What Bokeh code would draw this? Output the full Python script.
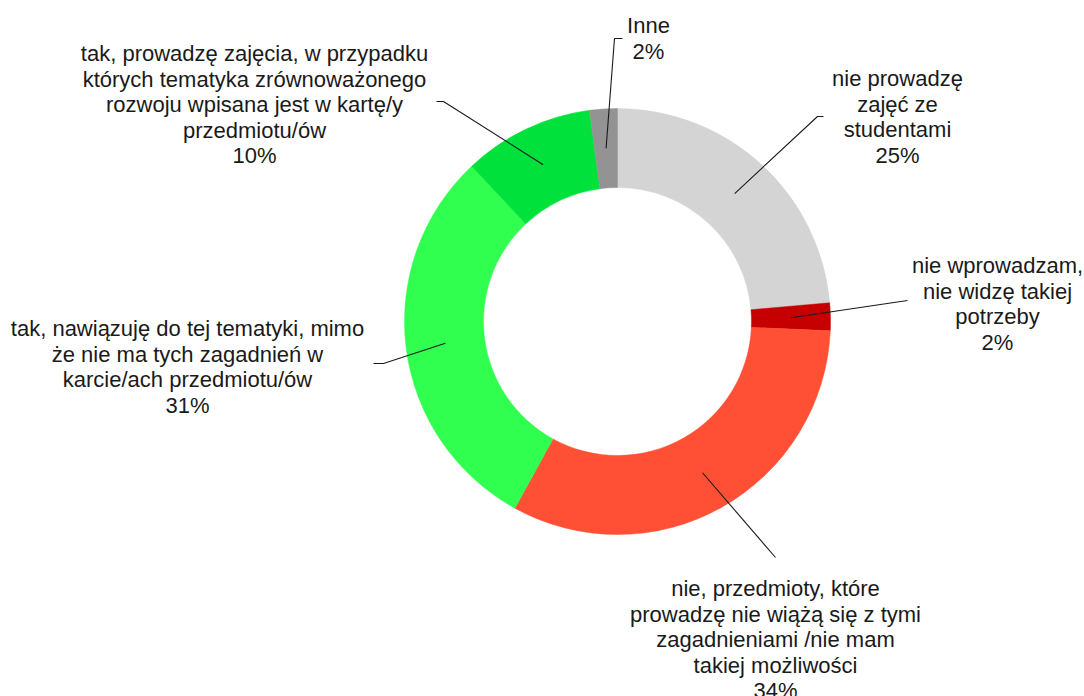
import math
from bokeh.plotting import figure
from bokeh.models import Range1d, ColumnDataSource
from bokeh.core.properties import value
from bokeh.embed import file_html
from bokeh.resources import INLINE

# ---- data ----
categories = [
    ["nie prowadzę", "zajęć ze", "studentami"],
    ["nie wprowadzam,", "nie widzę takiej", "potrzeby"],
    ["nie, przedmioty, które", "prowadzę nie wiążą się z tymi", "zagadnieniami /nie mam", "takiej możliwości"],
    ["tak, nawiązuję do tej tematyki, mimo", "że nie ma tych zagadnień w", "karcie/ach przedmiotu/ów"],
    ["tak, prowadzę zajęcia, w przypadku", "których tematyka zrównoważonego", "rozwoju wpisana jest w kartę/y", "przedmiotu/ów"],
    ["Inne"],
]
shares = [23.6, 2.1, 32.3, 30.0, 9.9, 2.1]
pct_labels = ["25%", "2%", "34%", "31%", "10%", "2%"]
colors = ["#d4d4d4", "#c60000", "#ff5036", "#31ff50", "#00e23b", "#939393"]

# ---- layout (screen px; y grows downward, converted below) ----
CX, CY = 617, 321
R_IN, R_OUT = 134, 213
FONT = "Liberation Sans"
FS = 22
LINE_H = 25.5
label_pos = [(897, 78), (997, 265), (775, 588), (187, 328), (254, 53), (648, 25)]
leader_pts = [
    [(817, 116), (823, 116)],
    [(907, 300)],
    [(775, 557)],
    [(383, 363), (373, 363)],
    [(443, 101), (436, 101)],
    [(614, 38), (622, 38)],
]

W, H = 1084, 696
p = figure(width=W, height=H, output_backend="svg", toolbar_location=None,
           x_range=Range1d(0, W), y_range=Range1d(-H, 0),
           min_border=0, outline_line_color=None)
p.axis.visible = False
p.grid.visible = False
p.background_fill_color = "white"
p.border_fill_color = "white"

total = sum(shares)
starts, ends, mids = [], [], []
cum = 0.0
for v in shares:
    a0 = math.pi / 2 - 2 * math.pi * cum / total
    cum += v
    a1 = math.pi / 2 - 2 * math.pi * cum / total
    starts.append(a0)
    ends.append(a1)
    mids.append((a0 + a1) / 2)

src = ColumnDataSource(dict(x=[CX] * len(shares), y=[-CY] * len(shares),
                            start=starts, end=ends, color=colors))
p.annular_wedge(x="x", y="y", inner_radius=R_IN, outer_radius=R_OUT,
                start_angle="start", end_angle="end", direction="clock",
                fill_color="color", line_color="color", line_width=0.5, source=src)

xs, ys = [], []
r_mid = (R_IN + R_OUT) / 2
for m, pts in zip(mids, leader_pts):
    sx = CX + r_mid * math.cos(m)
    sy = CY - r_mid * math.sin(m)
    xs.append([sx] + [q[0] for q in pts])
    ys.append([-sy] + [-q[1] for q in pts])
p.multi_line(xs=xs, ys=ys, line_color="#1a1a1a", line_width=1.1)

tx, ty, tt = [], [], []
for lines, pct, (lx, ly) in zip(categories, pct_labels, label_pos):
    for i, t in enumerate(lines + [pct]):
        tx.append(lx)
        ty.append(-(ly + i * LINE_H))
        tt.append(t)
p.text(x=tx, y=ty, text=tt, text_align="center", text_baseline="middle",
       text_font=value(FONT), text_font_size=f"{FS}px", text_color="#1a1a1a")

open("out.html", "w").write(file_html(p, INLINE))
